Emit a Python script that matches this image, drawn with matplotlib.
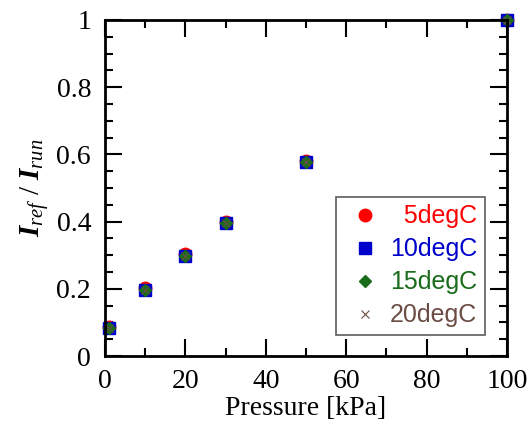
import matplotlib
matplotlib.use("Agg")
import matplotlib.pyplot as plt
from matplotlib.ticker import MultipleLocator

# Druck [kPa]
pressure = [1, 10, 20, 30, 50, 100]

# I_ref / I_run je Temperatur
ratio_5 = [0.087, 0.202, 0.305, 0.398, 0.580, 1.0]
ratio_10 = [0.083, 0.196, 0.299, 0.396, 0.578, 1.0]
ratio_15 = [0.083, 0.196, 0.299, 0.396, 0.578, 1.0]
ratio_20 = [0.083, 0.196, 0.299, 0.396, 0.578, 1.0]

# U+2007 (Ziffernbreite) fuer rechtsbuendige Legendentexte
labels = ["\u20075degC", "10degC", "15degC", "20degC"]
colors = ["#ff0000", "#0000cc", "#1a6b1a", "#6b4d45"]

plt.rcParams["font.family"] = ["Liberation Serif", "DejaVu Serif"]
plt.rcParams["mathtext.fontset"] = "custom"
plt.rcParams["mathtext.it"] = "Liberation Serif:italic"
plt.rcParams["mathtext.bf"] = "Liberation Serif:bold"
plt.rcParams["mathtext.bfit"] = "Liberation Serif:italic:bold"
plt.rcParams["mathtext.rm"] = "Liberation Serif"

fig = plt.figure(figsize=(5.3, 4.26), dpi=100)
ax = fig.add_axes([105 / 530, 1 - 356 / 426, 402 / 530, 336 / 426])

ax.plot(pressure, ratio_5, "o", color=colors[0], ms=9, clip_on=False, label=labels[0])
ax.plot(pressure, ratio_10, "s", color=colors[1], ms=9, clip_on=False, label=labels[1])
ax.plot(pressure, ratio_15, "D", color=colors[2], ms=6, clip_on=False, label=labels[2])
ax.plot(pressure, ratio_20, "x", color=colors[3], ms=6, mew=0.8, clip_on=False, label=labels[3])

ax.set_xlim(0, 100)
ax.set_ylim(0, 1)
ax.xaxis.set_major_locator(MultipleLocator(20))
ax.xaxis.set_minor_locator(MultipleLocator(10))
ax.yaxis.set_major_locator(MultipleLocator(0.2))
ax.yaxis.set_minor_locator(MultipleLocator(0.05))
ax.xaxis.set_major_formatter(plt.FuncFormatter(lambda v, p: f"{v:g}"))
ax.yaxis.set_major_formatter(plt.FuncFormatter(lambda v, p: f"{v:g}"))

ax.tick_params(which="both", direction="in", top=True, right=True, width=1.5, labelsize=20)
ax.tick_params(axis="x", pad=9)
ax.tick_params(axis="y", pad=10)
ax.tick_params(which="major", length=12)
ax.tick_params(which="minor", length=6)
for s in ax.spines.values():
    s.set_linewidth(2)

ax.set_xlabel("Pressure [kPa]", fontsize=20, labelpad=2)
ax.set_ylabel(r"$\mathbfit{I}_{ref}\ /\ \mathbfit{I}_{run}$", fontsize=21, labelpad=4)

leg = ax.legend(loc="lower right", bbox_to_anchor=(0.945, 0.063), markerfirst=True,
                prop={"family": ["Liberation Sans", "DejaVu Sans"], "size": 18}, frameon=True,
                fancybox=False, shadow=False, handletextpad=0.15, labelspacing=0.36,
                borderpad=0.3, handlelength=1.7, borderaxespad=0)
leg.get_frame().set_edgecolor("0.2")
leg.get_frame().set_linewidth(1.2)
for t, c in zip(leg.get_texts(), colors):
    t.set_color(c)

plt.savefig("out.png", dpi=100)
